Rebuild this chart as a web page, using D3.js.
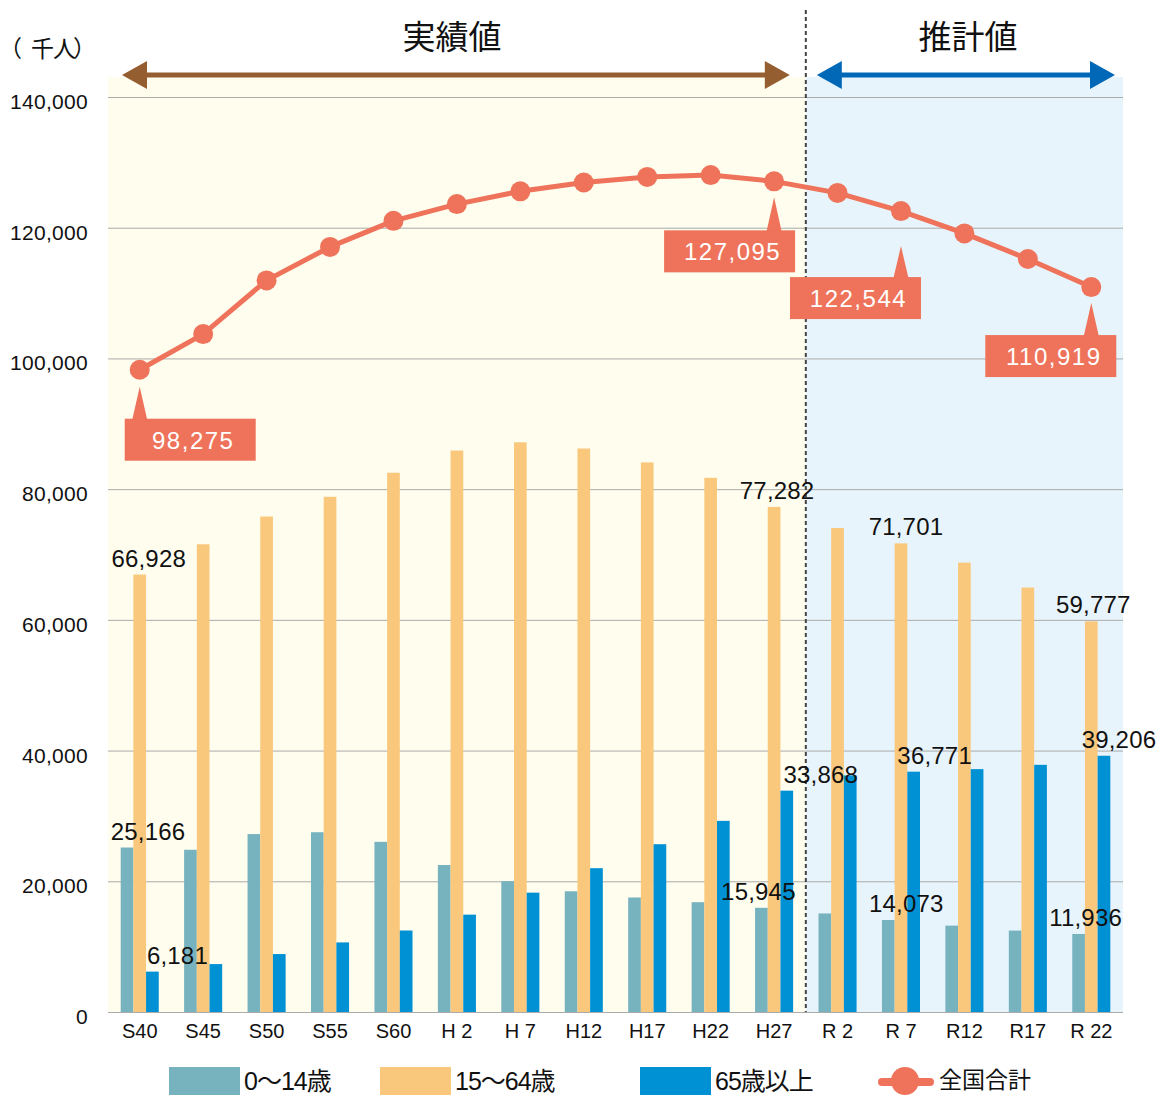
<!DOCTYPE html>
<html lang="ja">
<head>
<meta charset="utf-8">
<title>年齢3区分別人口の推移</title>
<script src="https://cdn.jsdelivr.net/npm/d3@7"></script>
<style>
  html, body { margin: 0; padding: 0; background: #fff; }
  svg { display: block; }
  text { font-family: "Liberation Sans", Arial, "Noto Sans CJK JP", sans-serif; }
  .cjk { font-family: "Noto Sans CJK JP", "Liberation Sans", sans-serif; }
</style>
</head>
<body>
<svg id="chart" width="1159" height="1095"></svg>
<script>
// 年次（昭和・平成・令和）
const categories = ["S40","S45","S50","S55","S60","H 2","H 7","H12","H17","H22","H27","R 2","R 7","R12","R17","R 22"];
// 年齢3区分別人口（千人）
const age0to14  = [25166, 24823, 27221, 27507, 26033, 22486, 20014, 18472, 17521, 16803, 15945, 15075, 14073, 13212, 12457, 11936];
const age15to64 = [66928, 71566, 75807, 78835, 82506, 85904, 87165, 86220, 84092, 81735, 77282, 74058, 71701, 68754, 64942, 59777];
const age65plus = [6181, 7331, 8865, 10647, 12468, 14895, 18261, 22005, 25672, 29246, 33868, 36192, 36771, 37160, 37817, 39206];
// 全国合計（千人）
const totalPop  = [98275, 103720, 111940, 117060, 121049, 123611, 125570, 126926, 127768, 128057, 127095, 125325, 122544, 119125, 115216, 110919];
// 目盛
const yTicks = [0, 20000, 40000, 60000, 80000, 100000, 120000, 140000];
// 実績値の年次数（以降は推計値）
const actualCount = 11;
// 数値を表示する年次
const labeledIdx = [0, 10, 12, 15];
const seriesNames = ["0〜14歳", "15〜64歳", "65歳以上"];

(function () {
const fmt = d3.format(",");
const svg = d3.select("#chart");

const plotL = 108, plotR = 1123, plotT = 97, plotB = 1012;
const colors = ["#77B2BF", "#F9C87C", "#0090D4"];
const lineColor = "#EE735A";

const x = d3.scaleBand().domain(categories).range([plotL, plotR]).paddingInner(0.4).paddingOuter(0.2);
const step = x.step();
const bandCenter = c => x(c) + x.bandwidth() / 2;
const xSub = d3.scaleBand().domain([0, 1, 2]).range([0, x.bandwidth()]);
const y = d3.scaleLinear().domain([0, 140000]).range([plotB, plotT]);

// 背景（実績値・推計値）
const splitX = plotL + step * actualCount;
svg.append("rect").attr("x", plotL).attr("y", 77).attr("width", splitX - plotL).attr("height", plotB - 77).attr("fill", "#FFFDEE");
svg.append("rect").attr("x", splitX).attr("y", 77).attr("width", plotR - splitX).attr("height", plotB - 77).attr("fill", "#E8F4FC");

// 目盛線
svg.append("g").selectAll("line").data(yTicks).join("line")
  .attr("x1", plotL).attr("x2", plotR)
  .attr("y1", d => y(d) + 0.5).attr("y2", d => y(d) + 0.5)
  .attr("stroke", "#ABABAB").attr("stroke-width", 1);

// Y軸
const yAxis = svg.append("g").attr("transform", `translate(${plotL},0)`)
  .call(d3.axisLeft(y).tickValues(yTicks).tickFormat(fmt).tickSize(0).tickPadding(20));
yAxis.select(".domain").remove();
yAxis.selectAll("text").attr("font-size", 21).attr("fill", "#111").attr("dy", "0.55em")
  .style("letter-spacing", "0.3px").style("font-family", "'Liberation Sans', Arial, sans-serif");

// X軸
const xAxis = svg.append("g").attr("transform", `translate(0,${plotB})`)
  .call(d3.axisBottom(x).tickSize(0).tickPadding(12));
xAxis.select(".domain").remove();
xAxis.selectAll("text").attr("font-size", 20).attr("fill", "#111")
  .style("font-family", "'Liberation Sans', Arial, sans-serif");

// 棒グラフ
const seriesData = [age0to14, age15to64, age65plus];
seriesData.forEach((vals, s) => {
  svg.append("g").selectAll("rect").data(vals).join("rect")
    .attr("x", (d, i) => x(categories[i]) + xSub(s))
    .attr("width", xSub.bandwidth())
    .attr("y", d => y(d))
    .attr("height", d => y(0) - y(d))
    .attr("fill", colors[s]);
});

// 境界の破線
svg.append("line").attr("x1", splitX).attr("x2", splitX).attr("y1", 10).attr("y2", plotB)
  .attr("stroke", "#444").attr("stroke-width", 2).attr("stroke-dasharray", "4,3");

// 棒の数値ラベル（横位置の微調整）
const barLabelNudge = [
  [21, -3, 18, 7],
  [9, 3, 5, 2],
  [25, 34, 21, 15]
];
seriesData.forEach((vals, s) => {
  labeledIdx.forEach((i, k) => {
    const cx = x(categories[i]) + xSub(s) + xSub.bandwidth() / 2 + barLabelNudge[s][k];
    svg.append("text").attr("x", cx).attr("y", y(vals[i]) - 8)
      .attr("text-anchor", "middle").attr("font-size", 24).attr("fill", "#111")
      .style("letter-spacing", "0.2px")
      .text(fmt(vals[i]));
  });
});

// 全国合計の折れ線
const line = d3.line().x((d, i) => bandCenter(categories[i])).y(d => y(d));
svg.append("path").datum(totalPop).attr("d", line)
  .attr("fill", "none").attr("stroke", lineColor).attr("stroke-width", 5).attr("stroke-linejoin", "round");
svg.append("g").selectAll("circle").data(totalPop).join("circle")
  .attr("cx", (d, i) => bandCenter(categories[i])).attr("cy", d => y(d)).attr("r", 10)
  .attr("fill", lineColor);

// 吹き出しラベル（箱の位置: 点からの相対）
const calloutPlace = [
  { dx: -15, dy: 49, tip: 17 },
  { dx: -110, dy: 49, tip: 16 },
  { dx: -111, dy: 66, tip: 35 },
  { dx: -106, dy: 48, tip: 16 }
];
const boxW = 131, boxH = 42;
labeledIdx.forEach((i, k) => {
  const px = bandCenter(categories[i]), py = y(totalPop[i]);
  const p = calloutPlace[k];
  const bx = px + p.dx, by = py + p.dy;
  const g = svg.append("g");
  g.append("path")
    .attr("d", `M${px},${py + p.tip} L${px + 7.5},${by + 1} L${px - 7.5},${by + 1} Z`)
    .attr("fill", lineColor);
  g.append("rect").attr("x", bx).attr("y", by).attr("width", boxW).attr("height", boxH).attr("fill", lineColor);
  g.append("text").attr("x", bx + boxW / 2 + 3).attr("y", by + 30)
    .attr("text-anchor", "middle").attr("font-size", 24).attr("fill", "#fff")
    .style("letter-spacing", "1.5px")
    .text(fmt(totalPop[i]));
});

// 見出しと矢印
function arrow(x1, x2, yy, color) {
  const g = svg.append("g");
  const hl = 25, hh = 14;
  g.append("line").attr("x1", x1 + hl - 2).attr("x2", x2 - hl + 2)
    .attr("y1", yy).attr("y2", yy).attr("stroke", color).attr("stroke-width", 5);
  g.append("path").attr("d", `M${x1},${yy} L${x1 + hl},${yy - hh} L${x1 + hl},${yy + hh} Z`).attr("fill", color);
  g.append("path").attr("d", `M${x2},${yy} L${x2 - hl},${yy - hh} L${x2 - hl},${yy + hh} Z`).attr("fill", color);
}
arrow(plotL + 14, splitX - 16, 75, "#955E31");
arrow(splitX + 11, plotR - 8, 75, "#0068B6");

svg.append("text").attr("class", "cjk").attr("x", 452).attr("y", 49).attr("text-anchor", "middle")
  .attr("font-size", 33).attr("fill", "#111").text("実績値");
svg.append("text").attr("class", "cjk").attr("x", 968).attr("y", 49).attr("text-anchor", "middle")
  .attr("font-size", 33).attr("fill", "#111").text("推計値");

// 単位
const unit = svg.append("text").attr("class", "cjk").attr("y", 57).attr("font-size", 23).attr("fill", "#111");
unit.append("tspan").attr("x", -1).text("（");
unit.append("tspan").attr("x", 31).style("letter-spacing", "-1px").text("千人");
unit.append("tspan").attr("x", 73).text("）");

// 凡例
const legendX = [169, 380, 640];
seriesNames.forEach((name, s) => {
  svg.append("rect").attr("x", legendX[s]).attr("y", 1067).attr("width", 71).attr("height", 28).attr("fill", colors[s]);
  svg.append("text").attr("x", legendX[s] + 75).attr("y", 1090).attr("font-size", 25).attr("fill", "#111")
    .style("letter-spacing", "-1px").text(name);
});
svg.append("line").attr("x1", 882).attr("x2", 930).attr("y1", 1082).attr("y2", 1082)
  .attr("stroke", lineColor).attr("stroke-width", 8).attr("stroke-linecap", "round");
svg.append("circle").attr("cx", 905).attr("cy", 1081).attr("r", 14).attr("fill", lineColor);
svg.append("text").attr("class", "cjk").attr("x", 939).attr("y", 1088).attr("font-size", 23).attr("fill", "#111")
  .text("全国合計");
})();
</script>
</body>
</html>
